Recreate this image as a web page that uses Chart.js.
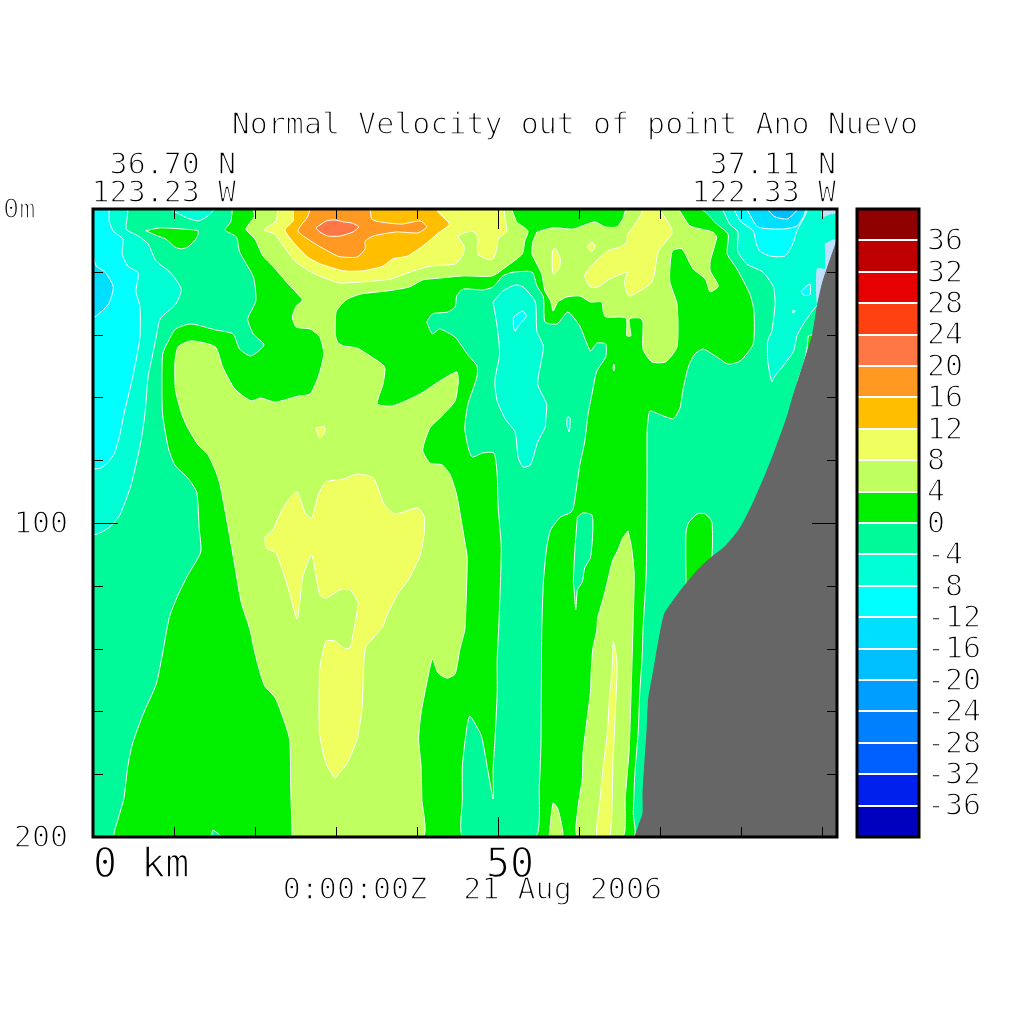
<!DOCTYPE html>
<html><head><meta charset="utf-8">
<script src="https://cdn.jsdelivr.net/npm/chart.js@4"></script>
<style>html,body{margin:0;background:#fff}canvas{position:absolute;left:0;top:0}</style>
</head><body>
<canvas id="section" width="1024" height="1024"></canvas>
<canvas id="bar" width="1024" height="1024"></canvas>
<script>
// Colour scale: band lower bounds (cm/s) and colours
const bandLows=[-40,-36,-32,-28,-24,-20,-16,-12,-8,-4,0,4,8,12,16,20,24,28,32,36];
const bandColors=['#0000bf','#0020ee','#0060ff','#0080ff','#009fff','#00bfff','#00dfff','#00ffff','#00ffd5','#00fa9a','#00f000','#bfff5f','#efff5f','#ffbf00','#ff9922','#ff7744','#ff4010','#e60000','#bf0000','#8f0000'];
const yTickLabels={0:'0m  ',100:'100',200:'200'};
const xTickLabels={0:'    0 km',50:' 50'};
const xMaxKm=91.85, depthMax=200;
// Contour polygons: [km along section, depth m]
const domain=[[0,0],[91.85,0],[91.85,200],[0,200]];
const coldA=[[0,0],[4.2,0],[4.1,6.4],[5.6,8.6],[6.8,11.1],[7.8,16.6],[9.5,20.1],[10.9,25.5],[10.2,30.3],[8.3,35],[7.8,40.8],[7.2,48.4],[6.8,53.5],[6.4,65.6],[5.9,74.2],[4.7,87.9],[3.3,97.5],[1.9,101.6],[0,103.5]];
const coldB=[[0,0],[1.9,0],[2,3.8],[2.5,7],[3.7,9.6],[3.6,14.3],[4.3,18.2],[5.6,20.4],[5.3,26.1],[5.8,31.2],[5.8,40.8],[4.9,53.5],[3.8,65.6],[3.3,72],[2.7,77.4],[1.9,80.6],[0.9,82.5],[0,82.5]];
const coldC=[[0,15],[0.4,18.2],[1.5,20.1],[2.5,24.8],[1.9,30.3],[0,34.4]];
const topCold=[[9.9,0],[9.9,0.6],[11.7,2.9],[13,3.8],[14.2,2.2],[14.9,0]];
const smallGreen=[[6.5,6.9],[8.3,6],[11.1,6.4],[13,7],[12.7,9.6],[11.7,12.1],[10.9,12.7],[10.1,12.1],[9,9.6],[7.7,8.3]];
const greenLeft=[[17.2,0],[17,4.1],[16.3,6.7],[17.7,8.9],[18.1,13.7],[19.8,21.7],[20.1,29.3],[19.1,35],[19.8,39.8],[21.1,43.3],[19.5,46.8],[18.1,44.6],[17.3,39.8],[15.1,38.5],[12.1,36.6],[10.2,38.2],[9.3,42],[8.6,46.2],[8.5,58],[8.6,65.6],[9.3,76.1],[10.1,81.5],[11.7,85.7],[12.8,90.2],[13.1,101.6],[13.3,109.2],[11.7,116.6],[10.5,122.9],[9.5,129.3],[9.1,134.1],[8.6,141.4],[7.8,151.3],[6.2,160.8],[4.9,170.1],[4.3,177.4],[3.8,187.9],[3.1,194.3],[2.7,200],[24.6,200],[29.3,124.5],[29.3,41.7],[26.8,35.4],[26.2,28.3],[21.9,11.5],[20.9,0]];
const greenMid=[[39.1,200],[39.1,67.2],[34.2,67.2],[34.2,51.3],[30.5,44.9],[29.3,43.6],[29.3,30.9],[30.5,27.4],[37.9,19.4],[47.8,16.2],[50.9,6.7],[50.2,0],[74.9,0],[75.6,1],[77,4.8],[78.4,8],[78.3,14.3],[79.5,19.1],[81.1,27.1],[81.6,32.5],[81.5,43],[79.9,48.4],[78.4,49.4],[77,47.1],[75.3,44.6],[74.3,46.2],[73.5,50.3],[72.8,58],[72.5,63.1],[71.9,66.2],[71.6,66.9],[70.4,65.9],[68.8,64.3],[68.6,65.6],[68.4,71],[68.4,85.7],[68.3,115.6],[67.9,134.1],[67.8,142.4],[67.5,154.1],[67.3,166.9],[66.9,179.6],[66.7,192.4],[66.7,200]];
const greenBump=[[73.2,119.7],[73.2,103.2],[73.5,100],[74.6,97.1],[75.6,97.1],[76.4,99.7],[76.4,111.1],[75.6,118.1]];
const greenSliver=[[88.3,40.4],[89.1,40.1],[87.3,58.3],[86.7,58.3],[86.9,56.4],[87,54.8],[87.7,49.4],[88.1,45.2]];
const limeMain=[[24.6,200],[24.4,183.8],[24.3,169.4],[23.7,163.7],[22.5,155.7],[21.2,151.9],[20.4,145.5],[19.8,139.2],[19.4,134.1],[18.3,125.2],[17.5,113.4],[16.7,101.6],[15.7,87.9],[15.2,83.8],[14.2,78.3],[13,75.2],[11.7,69.7],[11,65.6],[10.2,58],[10.1,49.4],[10.5,43.9],[12.1,42],[15.1,43.9],[16,50.3],[17.5,57.3],[19.5,61.1],[20.7,60.2],[22.5,61.5],[25.3,59.6],[26.8,58.9],[27.8,53.5],[28.5,46.2],[28,40.8],[26.8,38.2],[25.1,37.6],[24.6,34.4],[25.1,30.9],[25.8,29.3],[25.7,28.3],[24.1,23.9],[22.2,18.2],[21,15],[20,9.6],[18.9,6.4],[19.9,2.5],[19.9,0],[51.5,0],[52.3,4.1],[53.7,7],[53.3,10.2],[53,14.3],[51.1,18.2],[49.3,21.3],[45.7,21.3],[42.8,22],[40.7,22.6],[39.1,24.8],[36.3,26.1],[33,27.1],[31.4,28.7],[30.5,30.9],[30,32.8],[29.9,39.8],[30.2,42.4],[30.9,43.6],[32.6,44.3],[34.2,46.8],[36,50.3],[35.8,55.7],[35.1,62.1],[37,62.7],[40.4,58.9],[42.8,54.8],[44.9,51.9],[45.1,54.8],[44.7,61.1],[43.2,65.6],[41.6,69.7],[40.7,76.8],[41.6,80.9],[43.1,81.5],[44.1,84.7],[44.9,91.1],[45.9,106],[46.2,111.1],[46,129.3],[45.9,134.1],[45.3,140.1],[44.7,148.1],[43.7,149.4],[42.6,147.8],[41.9,143.3],[41.2,151],[40.5,160.5],[40.2,168.8],[40.5,177.4],[40.6,187.9],[40.7,200]];
const limeRight=[[54.8,7.3],[56.8,6],[59.3,6.4],[61,4.8],[62,4.1],[63.2,5.7],[64.7,5.7],[65.4,3.2],[65.9,0],[72.1,0],[73.7,5.4],[76.5,7.3],[77,8.9],[76.2,16.6],[76.2,19.7],[77.2,24.5],[76.2,26.4],[75.6,22.3],[74.1,19.1],[72.7,12.7],[71.5,13.4],[71.2,22.9],[72.1,30.3],[72.1,43.9],[70.7,48.7],[69,48.7],[67.9,44.6],[67.9,36],[67.5,34.7],[66.2,35],[66.4,40.4],[65.9,40.4],[65.8,34.7],[63.3,34.4],[63,32.8],[62.8,29.6],[61.4,29.6],[60.1,27.7],[58.5,28],[57.4,29.6],[56.8,32.5],[56.5,29.3],[55.8,26.1],[55.4,20.7],[54.8,17.5],[54.2,14.3],[54.3,10.5]];
const limeStrip=[[66.05,102.5],[65.4,104.8],[64.9,108],[64.1,112.4],[63.5,118.8],[63,123.9],[62.3,130.3],[62.2,134.1],[61.7,140.1],[61.5,147.8],[61.4,154.1],[61,162.4],[60.5,173.2],[60.4,181.5],[59.9,190.1],[59.8,200],[65.4,200],[65.7,187.9],[65.9,181.5],[66.2,172],[66.3,164.6],[66.5,147.8],[66.8,120.7],[66.8,115.6],[66.5,108]];
const limeSmall=[[56.3,200],[56.8,189.2],[57.4,191.1],[58,200]];
const yellowTop=[[22.8,0],[22.6,3.8],[21.1,6.7],[22.5,8],[23.5,11.8],[25.1,16.9],[27.4,20.7],[29.9,23.2],[30.5,23.6],[33.3,23.2],[36.7,22.3],[39.1,20.1],[41.6,18.2],[44.7,17.5],[45.7,14.3],[45.8,11.8],[45.1,8.6],[46.8,7],[47.5,8.9],[47.5,14.3],[48.6,15.9],[49.4,15.9],[49.9,12.1],[50,9.6],[51.1,7],[50.9,3.8],[50.6,0]];
const yellowRight=[[68,0],[67.5,2.5],[66.7,5.7],[66,8],[65.9,10.5],[65.1,12.1],[63.5,13.4],[61.4,18.5],[60.7,21.3],[61.4,24.8],[62.3,24.8],[63.8,22.3],[66,20.1],[65.6,22.9],[66.2,27.7],[69,23.2],[69.8,13.4],[71.5,7.3],[69.8,0]];
const yellowIsleA=[[56.7,13.4],[57,12.4],[57.7,15.9],[57.5,19.1],[56.8,20.7],[56.7,18.5]];
const yellowIsleB=[[61,12.1],[61.5,10.5],[62,11.8],[61.5,13.7]];
const yellowCentre=[[21.2,104.5],[22.2,102.2],[23.2,96.5],[24.1,92.7],[25.2,90.1],[26.2,96.8],[27,98.4],[27.8,91.1],[28.8,86.9],[30.9,86],[32.6,84.4],[34.6,85.7],[36,94.3],[37.3,97.1],[40.1,95.2],[40.9,98.1],[40.9,102.9],[40.4,110.2],[38.9,118.2],[37.7,122.3],[36.3,129.3],[35.8,132.8],[34.6,136.6],[33.6,139.8],[33.2,159.2],[32.6,168.8],[31.4,176.4],[30.5,179.3],[29.9,181.2],[28.8,176.7],[28,167.8],[27.9,157.6],[28,146.5],[28.4,140.8],[28.8,137.6],[29.9,137.6],[30.9,139.8],[31.7,139.8],[32.3,132.8],[32.7,125.2],[31.7,121.3],[30.5,121.3],[28.8,123.9],[28,122.9],[27,110.2],[25.9,117.2],[25.2,130.6],[24.1,120.7],[22.6,109.6],[21.4,108]];
const yellowTiny=[[27.5,69.7],[28.6,69.4],[28.6,71],[28,72.9]];
const yellowStrip=[[64.2,137.6],[64.4,139.2],[64.7,145.5],[64.4,164.6],[64.2,175.2],[63.8,200],[62.2,200],[62.6,187.9],[63,177.4],[63.5,166.9],[63.8,154.1],[64.1,146.5],[64.2,139.2]];
const amber=[[24.7,0],[24.7,3.8],[23.7,6.7],[24.9,11.1],[26.5,15.3],[28.1,17.5],[30.9,19.7],[33.3,19.7],[35.8,18.2],[37,15.9],[38.8,15],[40.7,11.8],[42.8,7.3],[44,4.8],[42.6,1],[42.5,0]];
const orange=[[26.8,0],[26.5,2.5],[25.3,7],[26.9,10.2],[28.1,12.1],[30.2,15],[30.9,15.3],[32.6,15.3],[33.6,12.7],[33.6,10.2],[34.6,8.6],[37.5,7.3],[40.1,7.6],[41.2,5.7],[40.4,3.8],[38.1,4.8],[35.4,4.1],[34.4,3.2],[34.1,0]];
const coral=[[27.5,6],[28.8,3.8],[29.9,3.5],[30.9,4.1],[32,4.5],[32.8,5.7],[32.1,7.3],[30.5,8.6],[29,8.6],[28,7.3]];
const springMid=[[41.2,36],[41.9,33.4],[43.8,32.8],[44.7,31.2],[44.9,27.7],[45.7,25.5],[48.1,25.8],[49.4,24.8],[50.6,21.3],[51.9,20.1],[54.2,20.1],[54.8,24.5],[55.6,28],[55.8,36],[57.3,36.6],[58.6,32.8],[60.1,37.3],[61.4,45.2],[62.2,42.7],[63.3,43],[63.3,47.1],[62.2,51.6],[61.6,58.9],[61.1,65.6],[60.7,74.2],[60.1,81.5],[59.3,95.2],[58.9,96.8],[57.7,98.1],[56.5,102.2],[56,108],[55.6,118.8],[55.4,134.1],[55.3,170.1],[55.1,183.8],[54.6,200],[45.7,200],[45.6,187.9],[45.6,177.4],[45.9,170.1],[46.5,161.5],[47.8,166.9],[48.1,169.4],[48.8,179.6],[49.4,187.9],[49.4,178.3],[49.6,170.1],[49.9,154.1],[49.9,143.3],[50.1,132.8],[50.4,108],[50,94.3],[49.9,84.7],[49.5,77.7],[48.1,77.7],[46.8,79],[46.3,75.8],[45.9,69.7],[46.3,62.1],[47.4,53.5],[47.4,50],[46.2,46.2],[44.7,40.8],[42.8,38.2],[41.9,39.8]];
const turquoiseMid=[[49.4,29.6],[50.6,26.1],[52.1,24.2],[53.1,24.8],[54.6,29.6],[54.8,38.9],[55.6,43.9],[54.9,55.7],[56,62.1],[55.9,66.9],[55.8,69.7],[54.9,74.2],[54,81.5],[53.1,82.2],[52.5,79.3],[52.1,71],[50.9,66.9],[49.9,61.1],[49.6,54.8],[50.2,46.2],[49.9,37.6]];
const cyanIsle=[[51.9,34.4],[53,32.5],[53.5,34.1],[52.5,37.3],[52.1,38.9],[51.9,37.3]];
const turquoiseIsle=[[58.5,66.6],[58.6,66.2],[58.9,66.6],[58.8,71],[58.5,68.8]];
const springFinger=[[59.8,98.1],[60.5,96.8],[61.6,97.5],[61.7,102.9],[61.4,111.1],[60.7,114.3],[60.4,118.8],[59.8,121.3],[59.6,127.7],[59.4,121.3],[59.3,118.8],[59.5,108]];
const springFoot=[[14.6,200],[14.8,197.8],[15.8,199.7],[15.8,200]];
const springDot=[[64.2,50.6],[64.3,49.4],[64.4,50.6],[64.3,51.6]];
const eastA=[[77.7,0],[78.6,4.8],[79.6,7.3],[79.6,13.4],[80.7,17.5],[82.7,20.1],[84,24.8],[84.2,30.3],[83.8,38.9],[83.3,42],[83.3,48.4],[83.8,55.1],[84.1,53.5],[85.1,50.3],[86.5,45.2],[86.9,40.4],[87.7,36.6],[88.8,32.5],[89.5,30.3],[91,25.8],[91.85,9.9],[91.85,0]];
const eastB=[[79.1,0],[79.9,3.8],[81.5,7],[81.9,11.1],[82.3,13.4],[83.6,15],[85.4,15],[86.4,11.1],[86.9,7],[88.1,1],[88.1,0]];
const eastC=[[80.7,0],[82.1,5.7],[85.1,6.4],[86.9,5.4],[87.7,2.5],[87.9,0]];
const eastD=[[83.2,0],[84.2,2.5],[85.7,3.2],[86.7,1],[86.9,0]];
const eastIsle=[[87.4,26.1],[88.5,23.9],[88.5,27.4],[87.7,27.4]];
const eastDot=[[86.4,32.2],[86.7,32.5],[86.4,33.1]];
const paleTop=[[90,0],[91.85,0],[91.85,1.3],[91,1.6],[90,2.5]];
const paleShore=[[90.4,11.1],[91.7,9.6],[91.85,11.8],[89.5,30.6],[89.4,19.1],[90.4,19.1]];
const seabed=[[66.9,200],[67.5,195.5],[67.9,192.4],[67.9,186],[68.1,177.4],[68.4,166.2],[68.6,156],[69.1,148.7],[69.8,138.2],[70.2,132.8],[70.6,128.7],[71.5,125.2],[73.1,119.7],[74.9,114.3],[76.4,110.8],[78,107.6],[79.9,101.6],[81.5,93.6],[83,84.7],[84,78.3],[85.7,66.2],[86.4,59.9],[87.7,49.4],[88.8,40.4],[89.4,31.2],[90.1,23.2],[91.7,11.1],[91.85,9.9],[91.85,200]];

const C=v=>bandColors[bandLows.indexOf(v)];
const P='#c0e0ff', LAND='#666666';
const layers=[
 [domain,C(-4),C(-4)],[coldA,C(-8)],[coldB,C(-12)],[coldC,C(-16)],[topCold,C(-8)],[smallGreen,C(0)],
 [greenLeft,C(0)],[greenMid,C(0)],[greenBump,C(0)],[greenSliver,C(0)],
 [limeMain,C(4)],[limeRight,C(4)],[limeStrip,C(4)],[limeSmall,C(4)],
 [yellowTop,C(8)],[yellowRight,C(8)],[yellowIsleA,C(8)],[yellowIsleB,C(8)],[yellowCentre,C(8)],[yellowTiny,C(8)],[yellowStrip,C(8)],
 [amber,C(12)],[orange,C(16)],[coral,C(20)],
 [springMid,C(-4)],[turquoiseMid,C(-8)],[cyanIsle,C(-12)],[turquoiseIsle,C(-8)],[springFinger,C(-4)],[springFoot,C(-4)],[springDot,C(-4)],
 [eastA,C(-8)],[eastB,C(-12)],[eastC,C(-16)],[eastD,C(-20)],[eastIsle,C(-12)],[eastDot,C(-12)],
 [paleTop,P,P],[paleShore,P,P],[seabed,LAND,LAND]
];
const mono='"DejaVu Sans Mono"';
const ERODE=1.3;
const captions=[
 ['Normal Velocity out of point Ano Nuevo',918,134],
 ['36.70 N',236,174],['123.23 W',236,202],
 ['37.11 N',836,174],['122.33 W',836,202],
 ['0:00:00Z  21 Aug 2006',662,899]
];
function nudgeY(chart){
  const s=chart.scales.y;
  if(s.$nudged) return; s.$nudged=true;
  for(const it of s.getLabelItems()) it.options.translation[1]+=2;
}
function erodeLabels(chart){
  const ctx=chart.ctx;
  ctx.save();ctx.strokeStyle='#fff';ctx.lineWidth=ERODE;ctx.lineJoin='round';
  for(const id of ['x','y']){
    const s=chart.scales[id]; if(!s||!s.options.display) continue;
    for(const it of s.getLabelItems()){
      if(!it.label) continue;
      ctx.save();ctx.font=it.font.string;ctx.textAlign=it.options.textAlign;ctx.textBaseline=it.options.textBaseline;
      ctx.translate(it.options.translation[0],it.options.translation[1]);
      ctx.strokeText(it.label,0,it.textOffset);ctx.restore();
    }
  }
  ctx.restore();
}
const sectionFrame={id:'sectionFrame',
 beforeDraw:nudgeY,
 afterDatasetsDraw(chart){
  const {ctx,chartArea:a,scales:{x,y}}=chart;
  ctx.save();ctx.strokeStyle='#000';ctx.lineWidth=1;ctx.beginPath();
  for(const t of x.ticks){ if(t.value===0) continue;
    const L=t.value===50?20:10, px=Math.round(x.getPixelForValue(t.value))+.5;
    ctx.moveTo(px,a.top);ctx.lineTo(px,a.top+L);ctx.moveTo(px,a.bottom);ctx.lineTo(px,a.bottom-L);}
  for(const t of y.ticks){ if(t.value===0||t.value===depthMax) continue;
    const L=t.value===100?25:10, py=Math.round(y.getPixelForValue(t.value))+.5;
    ctx.moveTo(a.left,py);ctx.lineTo(a.left+L,py);ctx.moveTo(a.right,py);ctx.lineTo(a.right-L,py);}
  ctx.stroke();ctx.lineWidth=3;ctx.strokeRect(a.left,a.top,a.right-a.left,a.bottom-a.top);ctx.restore();
 },
 afterDraw(chart){
  const ctx=chart.ctx;
  erodeLabels(chart);
  ctx.save();ctx.font='30px '+mono;ctx.textAlign='right';ctx.textBaseline='alphabetic';ctx.fillStyle='#000';
  ctx.strokeStyle='#fff';ctx.lineWidth=ERODE;ctx.lineJoin='round';
  for(const [t,px,py] of captions){ctx.fillText(t,px,py);ctx.strokeText(t,px,py);}
  ctx.restore();
 }};
new Chart(document.getElementById('section'),{
 type:'scatter',
 data:{datasets:layers.map(([poly,col,line],i)=>({
   data:poly.concat([poly[0]]).map(([x,y])=>({x,y})),showLine:true,fill:'shape',
   backgroundColor:col,borderColor:line||'#ffffff',borderWidth:1,pointRadius:0,pointHoverRadius:0,tension:0.2,order:layers.length-i}))},
 plugins:[sectionFrame],
 options:{responsive:false,animation:false,events:[],
  layout:{padding:{top:209,right:187,left:0,bottom:0}},
  plugins:{legend:{display:false},tooltip:{enabled:false},title:{display:false}},
  scales:{
   x:{type:'linear',min:0,max:xMaxKm,afterFit(s){s.height=187;s.paddingLeft=0;s.paddingRight=0;},grid:{display:false,drawTicks:false},border:{display:false},
      ticks:{stepSize:10,includeBounds:false,autoSkip:false,maxRotation:0,padding:6,color:'#000',font:{family:mono,size:40},
             callback:v=>xTickLabels[v]||''}},
   y:{type:'linear',reverse:true,min:0,max:depthMax,afterFit(s){s.width=93;s.paddingTop=0;s.paddingBottom=0;},grid:{display:false,drawTicks:false},border:{display:false},
      ticks:{stepSize:20,autoSkip:false,padding:25,color:'#000',
             font:c=>({family:mono,size:c.tick&&c.tick.value===0?27:30}),
             callback:v=>yTickLabels[v]||''}}
  }}
});
const barFrame={id:'barFrame',
 beforeDraw:nudgeY,
 afterDatasetsDraw(chart){
  const {ctx,chartArea:a,scales:{y}}=chart;
  ctx.save();ctx.strokeStyle='#fff';ctx.lineWidth=2;ctx.beginPath();
  for(const t of y.ticks){ if(Math.abs(t.value)===40) continue;
    const py=Math.round(y.getPixelForValue(t.value));ctx.moveTo(a.left,py);ctx.lineTo(a.right,py);}
  ctx.stroke();ctx.strokeStyle='#000';ctx.lineWidth=3;ctx.strokeRect(a.left,a.top,a.right-a.left,a.bottom-a.top);ctx.restore();
 },
 afterDraw:erodeLabels};
new Chart(document.getElementById('bar'),{
 type:'bar',
 data:{labels:[''],datasets:bandLows.map((lo,i)=>({data:[[lo,lo+4]],backgroundColor:bandColors[i],barPercentage:1,categoryPercentage:1,borderWidth:0}))},
 plugins:[barFrame],
 options:{responsive:false,animation:false,events:[],
  layout:{padding:{left:857,top:209,bottom:187,right:0}},
  plugins:{legend:{display:false},tooltip:{enabled:false}},
  scales:{
   x:{display:false,stacked:true},
   y:{position:'right',min:-40,max:40,afterFit(s){s.width=105;s.paddingTop=0;s.paddingBottom=0;},grid:{display:false,drawTicks:false},border:{display:false},
      ticks:{stepSize:4,autoSkip:false,padding:8,color:'#000',font:{family:mono,size:30},
             callback:v=>Math.abs(v)===40?'':String(v)}}
  }}
});
</script>
</body></html>
